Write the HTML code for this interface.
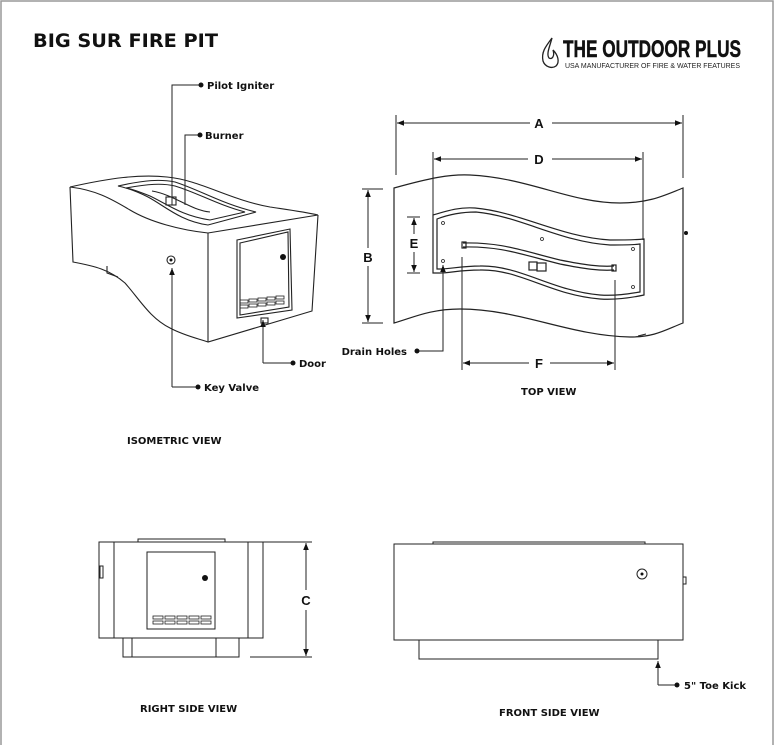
<!DOCTYPE html>
<html><head><meta charset="utf-8"><style>
html,body{margin:0;padding:0;background:#fff}
svg{display:block}
.l{font-family:"DejaVu Sans",Verdana,sans-serif;font-weight:bold;font-size:10px;fill:#111}
.d{font-family:"Liberation Sans",Arial,sans-serif;font-weight:bold;font-size:13px;fill:#111}
</style></head><body>
<svg width="775" height="745" viewBox="0 0 775 745" xmlns="http://www.w3.org/2000/svg">
<defs>
<marker id="ar" viewBox="0 0 10 10" refX="10" refY="5" markerWidth="7" markerHeight="7" orient="auto-start-reverse"><path d="M0,1 L10,5 L0,9 z" fill="#111"/></marker>
</defs>
<rect x="1" y="1" width="772" height="760" fill="none" stroke="#999" stroke-width="1.5"/>
<text x="33" y="47" font-family="DejaVu Sans,Verdana,sans-serif" font-weight="bold" font-size="19" fill="#111" textLength="185" lengthAdjust="spacingAndGlyphs">BIG SUR FIRE PIT</text>
<!-- logo -->
<path d="M552,38 C546,46 541,52 543,61 C545,67 552,69 556,66 C560,62 558,55 553,50 C555,56 552,60 549,58 C546,54 550,46 552,38 z" fill="none" stroke="#222" stroke-width="1.3"/>
<text x="563" y="57" font-family="Liberation Sans Narrow,Liberation Sans,sans-serif" font-weight="bold" font-size="24" fill="#111" stroke="#111" stroke-width="0.5" textLength="178" lengthAdjust="spacingAndGlyphs">THE OUTDOOR PLUS</text>
<text x="565" y="68" font-family="Liberation Sans,sans-serif" font-size="7" fill="#222" textLength="175" lengthAdjust="spacingAndGlyphs">USA MANUFACTURER OF FIRE &amp; WATER FEATURES</text>

<g fill="none" stroke="#222" stroke-width="1.1">
<!-- ISOMETRIC -->
<path d="M70,187 C110,178 140,174 167,177 C200,180 230,200 270,207 C290,210 305,212 318,215"/>
<path d="M70,187 C95,190 110,198 130,210 C150,222 180,230 208,233 L318,215"/>
<path d="M70,187 L73,262 C95,266 110,270 125,283 C140,300 150,318 170,328 C185,336 200,339 208,342 L312,311 L318,215"/>
<path d="M208,233 L208,342"/>
<path d="M118,186 C145,180 160,179 175,182 C200,190 222,204 256,212 L208,225 C180,221 165,206 148,197 C138,192 128,188 118,186 z"/>
<path d="M126,188 C148,184 162,183 175,186 C198,193 218,205 245,212 L210,220 C182,216 167,204 150,196 C140,192 132,189 126,188 z"/>
<path d="M152,191 C175,195 190,210 210,212"/>
<rect x="166" y="197" width="10" height="8"/>
<path d="M237,240 L290,229 L292,310 L237,318 z"/>
<path d="M240,243 L288,232 L289,307 L240,315 z"/>
<g stroke-width="0.8"><rect x="240" y="300" width="8" height="3"/><rect x="249" y="299" width="8" height="3"/><rect x="258" y="298" width="8" height="3"/><rect x="267" y="297" width="8" height="3"/><rect x="276" y="296" width="8" height="3"/><rect x="240" y="305" width="8" height="3"/><rect x="249" y="304" width="8" height="3"/><rect x="258" y="303" width="8" height="3"/><rect x="267" y="302" width="8" height="3"/><rect x="276" y="301" width="8" height="3"/></g>
<circle cx="171" cy="260" r="4"/>
<path d="M107,266 L107,273 L118,277"/>
<rect x="261" y="318" width="7" height="5"/>
</g>
<circle cx="283" cy="257" r="3" fill="#111"/>
<circle cx="171" cy="260" r="1.5" fill="#111"/>
<g fill="none" stroke="#222" stroke-width="1">
<path d="M172,205 L172,85 L201,85"/><path d="M185,205 L185,135 L200,135"/>
<path d="M172,387 L172,268" marker-end="url(#ar)"/><path d="M172,387 L198,387"/>
<path d="M263,363 L263,320" marker-end="url(#ar)"/><path d="M263,363 L293,363"/>
</g>
<g fill="#111"><circle cx="201" cy="85" r="2.5"/><circle cx="200" cy="135" r="2.5"/><circle cx="198" cy="387" r="2.5"/><circle cx="293" cy="363" r="2.5"/></g>
<text class="l" x="207" y="89">Pilot Igniter</text>
<text class="l" x="205" y="139">Burner</text>
<text class="l" x="204" y="391">Key Valve</text>
<text class="l" x="299" y="367">Door</text>
<text class="l" x="127" y="444">ISOMETRIC VIEW</text>

<!-- TOP VIEW -->
<g fill="none" stroke="#222" stroke-width="1.2">
<path d="M394,188 C430,178 450,174 470,175 C530,178 570,203 620,203 C650,203 665,195 683,188 L683,323 C665,330 655,337 630,337 C570,336 520,309 460,309 C430,309 412,318 394,323 z"/>
<path d="M433,215 C450,210 460,207 475,208 C520,212 560,237 610,240 C625,240 635,240 644,239 L644,295 C630,298 615,300 600,299 C550,295 520,269 480,270 C460,270 450,273 440,273 L433,273 z"/>
<path d="M437,219 C450,214 462,212 476,212 C520,216 560,242 610,245 C625,245 634,245 640,244 L640,292 C628,294 615,296 600,295 C552,291 520,265 480,266 C462,266 450,269 440,269 L437,269 z"/>
<path d="M463,243 C500,242 520,250 560,260 C585,265 600,267 614,266"/>
<path d="M463,247 C500,246 520,254 560,264 C585,269 600,271 614,270"/>
<rect x="462" y="242" width="4" height="6"/><rect x="612" y="265" width="4" height="6"/>
<rect x="529" y="262" width="8" height="8"/><rect x="537" y="263" width="9" height="8"/>
<g stroke-width="0.8"><circle cx="443" cy="223" r="1.5"/><circle cx="542" cy="239" r="1.5"/><circle cx="633" cy="249" r="1.5"/><circle cx="633" cy="287" r="1.5"/><circle cx="443" cy="261" r="1.5"/></g>
</g>
<g fill="none" stroke="#222" stroke-width="1">
<path d="M396,115 L396,175 M683,115 L683,178 M433,152 L433,240 M643,152 L643,240 M362,189 L383,189 M362,323 L383,323 M407,217 L420,217 M407,273 L420,273 M462,257 L462,370 M615,280 L615,370"/>
<path d="M530,123 L397,123" marker-end="url(#ar)"/><path d="M552,123 L682,123" marker-end="url(#ar)"/>
<path d="M528,159 L434,159" marker-end="url(#ar)"/><path d="M552,159 L642,159" marker-end="url(#ar)"/>
<path d="M368,248 L368,190" marker-end="url(#ar)"/><path d="M368,266 L368,322" marker-end="url(#ar)"/>
<path d="M414,234 L414,218" marker-end="url(#ar)"/><path d="M414,252 L414,272" marker-end="url(#ar)"/>
<path d="M529,363 L463,363" marker-end="url(#ar)"/><path d="M550,363 L614,363" marker-end="url(#ar)"/>
<path d="M417,351 L443,351 L443,265" marker-end="url(#ar)"/>
<path d="M638,336 L646,334"/>
</g>
<circle cx="686" cy="233" r="2" fill="#111"/>
<circle cx="417" cy="351" r="2.5" fill="#111"/>
<text class="d" x="539" y="128" text-anchor="middle">A</text>
<text class="d" x="539" y="164" text-anchor="middle">D</text>
<text class="d" x="368" y="262" text-anchor="middle">B</text>
<text class="d" x="414" y="248" text-anchor="middle">E</text>
<text class="d" x="539" y="368" text-anchor="middle">F</text>
<text class="l" x="407" y="355" text-anchor="end">Drain Holes</text>
<text class="l" x="521" y="395">TOP VIEW</text>

<!-- RIGHT SIDE -->
<g fill="none" stroke="#222" stroke-width="1">
<rect x="99" y="542" width="164" height="96"/>
<path d="M114,542 L114,638 M248,542 L248,638"/>
<path d="M138,542 L138,539 L225,539 L225,542"/>
<rect x="147" y="552" width="68" height="77"/>
<path d="M123,638 L123,657 L239,657 L239,638 M132,638 L132,657 M216,638 L216,657"/>
<g stroke-width="0.8"><rect x="153" y="616" width="10" height="3"/><rect x="165" y="616" width="10" height="3"/><rect x="177" y="616" width="10" height="3"/><rect x="189" y="616" width="10" height="3"/><rect x="201" y="616" width="10" height="3"/><rect x="153" y="621" width="10" height="3"/><rect x="165" y="621" width="10" height="3"/><rect x="177" y="621" width="10" height="3"/><rect x="189" y="621" width="10" height="3"/><rect x="201" y="621" width="10" height="3"/></g>
<rect x="100" y="566" width="3" height="12"/>
<path d="M263,542 L312,542 M250,657 L312,657"/>
<path d="M306,590 L306,543" marker-end="url(#ar)"/><path d="M306,610 L306,656" marker-end="url(#ar)"/>
</g>
<circle cx="205" cy="578" r="3" fill="#111"/>
<text class="d" x="306" y="605" text-anchor="middle">C</text>
<text class="l" x="140" y="712">RIGHT SIDE VIEW</text>

<!-- FRONT -->
<g fill="none" stroke="#222" stroke-width="1">
<rect x="394" y="544" width="289" height="96"/>
<path d="M433,544 L433,542 L645,542 L645,544"/>
<path d="M419,640 L419,659 L658,659 L658,640"/>
<circle cx="642" cy="574" r="5"/>
<rect x="683" y="577" width="3" height="7"/>
<path d="M658,685 L658,661" marker-end="url(#ar)"/><path d="M658,685 L677,685"/>
</g>
<circle cx="642" cy="574" r="1.5" fill="#111"/>
<circle cx="677" cy="685" r="2.5" fill="#111"/>
<text class="l" x="684" y="689">5" Toe Kick</text>
<text class="l" x="499" y="716">FRONT SIDE VIEW</text>
</svg>
</body></html>
